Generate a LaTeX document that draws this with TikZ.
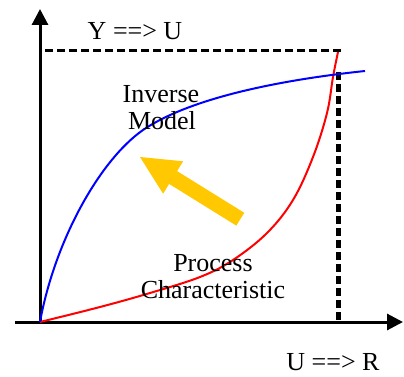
\documentclass[tikz,border=0pt]{standalone}
\usepackage{fontspec}
\setmainfont{Liberation Serif}
\usetikzlibrary{arrows.meta}
\definecolor{arrowgold}{RGB}{255,200,0}
\tikzset{
  axis/.style={line width=3pt,-{Triangle[length=16pt,width=16pt]}},
  guide/.style={line width=3pt,dash pattern=on 8pt off 4pt},
  vguide/.style={line width=5.5pt,dash pattern=on 8pt off 4pt},
  lbl/.style={font=\fontsize{26}{27}\selectfont,inner sep=0pt,anchor=base},
  proc/.style={red,line width=2pt},
  inv/.style={blue,line width=2pt}
}
\begin{document}
\begin{tikzpicture}[x=1pt,y=-1pt]
\useasboundingbox (0,0) rectangle (404,377);
\coordinate (origin) at (40,322);
\coordinate (ytip) at (40,9);
\coordinate (xstart) at (15,322);
\coordinate (xtip) at (403,322);
\coordinate (tl) at (45,50.5);
\coordinate (tr) at (343,50.5);
\coordinate (vtop) at (338.5,72);
\coordinate (vbot) at (338.5,322);
\coordinate (pend) at (338,52);
\coordinate (iend) at (365,71);
% guides
\draw[guide] (tl) -- (tr);
\draw[vguide] (vtop) -- (vbot);
% axes
\draw[axis] (origin) -- (ytip);
\draw[axis] (xstart) -- (xtip);
% curves
\draw[proc] plot[smooth,tension=0.6] coordinates {(40,322) (100,307) (150,293) (200,277) (233,260) (267,233) (293,200) (313,157) (327,113) (333,77) (338,52)};
\draw[inv] (origin) .. controls (55,240) and (100,160) .. (143,130) .. controls (190,98) and (280,80) .. (iend);
% yellow arrow
\fill[arrowgold] (140,157) -- (183.1,161.3) -- (177.1,171.1) -- (244.3,212.8) -- (236.3,225.6) -- (169.1,183.9) -- (163.1,193.7) -- cycle;
% labels
\node[lbl] (yu) at (135,40) {Y ==> U};
\node[lbl] (ur) at (333,370) {U ==> R};
\node[lbl] (inv1) at (161,103) {Inverse};
\node[lbl] (inv2) at (162,130) {Model};
\node[lbl] (pc1) at (213,271) {Process};
\node[lbl] (pc2) at (213,298) {Characteristic};
\end{tikzpicture}
\end{document}
